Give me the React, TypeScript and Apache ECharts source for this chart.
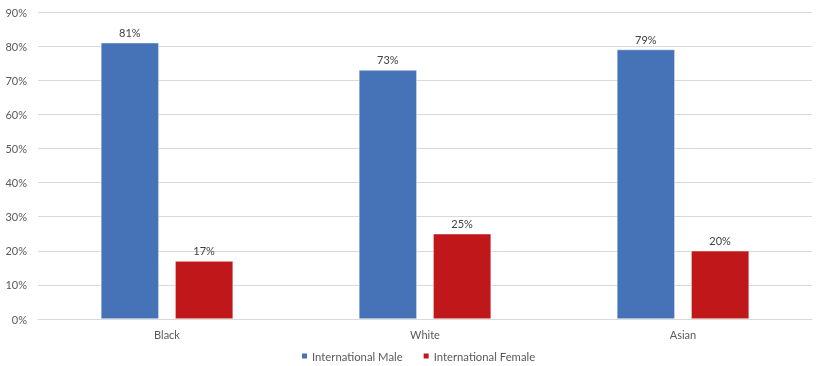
import React, { useEffect, useRef } from "react";
import * as echarts from "echarts";

const categories = ["Black", "White", "Asian"];
const maleValues = [81, 73, 79];
const femaleValues = [17, 25, 20];
const seriesNames = ["International Male", "International Female"];

const FONT = "Lato";

export default function App() {
  const ref = useRef<HTMLDivElement>(null);
  useEffect(() => {
    if (!ref.current) return;
    const chart = echarts.init(ref.current, undefined, { renderer: "svg" });
    const labelStyle = {
      show: true,
      position: "top" as const,
      distance: 5,
      formatter: "{c}%",
      color: "#404040",
      fontSize: 11,
      fontFamily: FONT,
    };
    chart.setOption({
      animation: false,
      grid: { left: 38, right: 6, top: 12, bottom: 47, containLabel: false },
      legend: {
        top: 349,
        left: 300,
        padding: 0,
        itemWidth: 7,
        itemHeight: 7,
        itemGap: 19,
        icon: "rect",
        textStyle: { color: "#595959", fontSize: 11.3, fontFamily: FONT, lineHeight: 14, padding: [0, 0, 0, -1] },
        data: seriesNames,
      },
      xAxis: {
        type: "category",
        data: categories,
        axisLine: { show: true, lineStyle: { color: "#d9d9d9" } },
        axisTick: { show: false },
        axisLabel: { color: "#595959", fontSize: 11, fontFamily: FONT, margin: 10 },
      },
      yAxis: {
        type: "value",
        min: 0,
        max: 90,
        interval: 10,
        axisLine: { show: false },
        axisTick: { show: false },
        splitLine: { lineStyle: { color: "#d9d9d9" } },
        axisLabel: { formatter: "{value}%", color: "#595959", fontSize: 11, fontFamily: FONT, margin: 11 },
      },
      series: [
        {
          name: seriesNames[0],
          type: "bar",
          data: maleValues,
          barWidth: 58,
          barGap: "28%",
          itemStyle: { color: "#4672B7", borderColor: "#ffffff", borderWidth: 0.5 },
          label: labelStyle,
        },
        {
          name: seriesNames[1],
          type: "bar",
          data: femaleValues,
          barWidth: 58,
          barGap: "28%",
          itemStyle: { color: "#C0181A", borderColor: "#ffffff", borderWidth: 0.5 },
          label: labelStyle,
        },
      ],
    });
    return () => chart.dispose();
  }, []);
  return <div ref={ref} style={{ position: "fixed", left: 0, top: 0, width: 818, height: 366 }} />;
}
